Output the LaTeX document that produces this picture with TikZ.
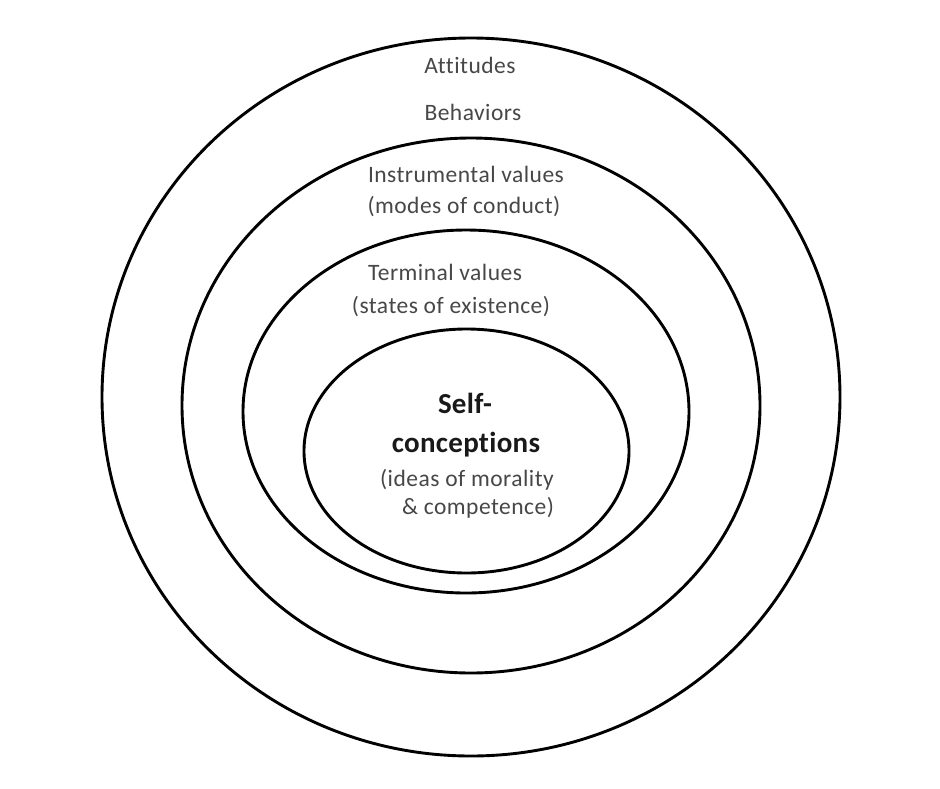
\documentclass[tikz,border=0pt]{standalone}
\usepackage{fontspec}
\setmainfont[Ligatures=NoCommon]{Carlito}
\newfontfamily\lblfont[Ligatures=NoCommon,LetterSpace=2]{Carlito}
\newfontfamily\titlefont[Ligatures=NoCommon,LetterSpace=1]{Carlito}
\begin{document}
\begin{tikzpicture}[x=1pt,y=-1pt,
  ring/.style={draw=black,line width=2.9pt},
  lbl/.style={anchor=base,inner sep=0pt,text=black!72,font=\lblfont\fontsize{23.5}{28}\selectfont},
  title/.style={anchor=base,inner sep=0pt,text=black!90,font=\titlefont\fontsize{29}{34}\selectfont\bfseries}]
\useasboundingbox[fill=white] (0,0) rectangle (940,788);
% rings
\draw[ring] (471,397) ellipse [x radius=369, y radius=359];
\draw[ring] (471,405.5) ellipse [x radius=289, y radius=267.5];
\draw[ring] (466,411.5) ellipse [x radius=223, y radius=181.5];
\draw[ring] (466.5,451) ellipse [x radius=162.5, y radius=122];
% labels
\node[lbl] (att) at (470,73) {Attitudes};
\node[lbl] (beh) at (473,120) {Behaviors};
\node[lbl] (ins) at (466,182) {Instrumental values};
\node[lbl] (mod) at (464,213) {(modes of conduct)};
\node[lbl] (ter) at (445,280) {Terminal values};
\node[lbl] (sta) at (451,313) {(states of existence)};
\node[title] (self) at (465,413) {Self-};
\node[title] (conc) at (466,452) {conceptions};
\node[lbl] (ide) at (467,486) {(ideas of morality};
\node[lbl] (com) at (478,514) {\& competence)};
\end{tikzpicture}
\end{document}
